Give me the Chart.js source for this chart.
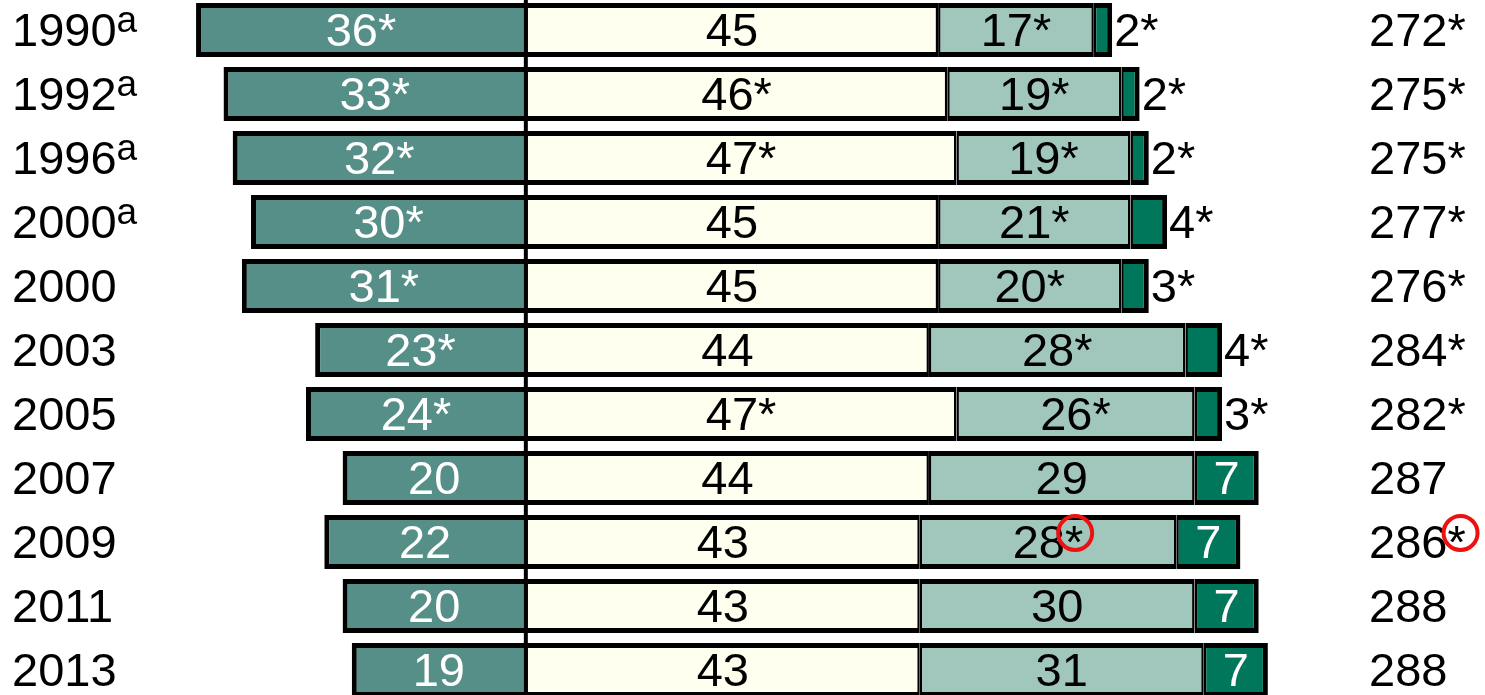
<!DOCTYPE html>
<html lang="en">
<head>
    <meta charset="UTF-8">
    <title>Achievement levels by year</title>
    <script src="https://cdn.jsdelivr.net/npm/chart.js"></script>
    <style>
        html, body {
            margin: 0;
            padding: 0;
            background: white;
            overflow: hidden;
            width: 1485px;
            height: 695px;
        }
        #wrap {
            position: absolute;
            left: 0;
            top: -2px;
            width: 1485px;
            height: 704px;
        }
    </style>
</head>
<body>
    <div id="wrap"><canvas id="levels" width="1485" height="704"></canvas></div>

    <script>
        // years (superscript "a" handled separately)
        const years = ["1990", "1992", "1996", "2000", "2000", "2003", "2005", "2007", "2009", "2011", "2013"];
        const yearNote = ["a", "a", "a", "a", "", "", "", "", "", "", ""];

        // percentages at each level
        const belowBasic = [36, 33, 32, 30, 31, 23, 24, 20, 22, 20, 19];
        const basic = [45, 46, 47, 45, 45, 44, 47, 44, 43, 43, 43];
        const proficient = [17, 19, 19, 21, 20, 28, 26, 29, 28, 30, 31];
        const advanced = [2, 2, 2, 4, 3, 4, 3, 7, 7, 7, 7];

        // printed labels (asterisk = significantly different)
        const belowBasicText = ["36*", "33*", "32*", "30*", "31*", "23*", "24*", "20", "22", "20", "19"];
        const basicText = ["45", "46*", "47*", "45", "45", "44", "47*", "44", "43", "43", "43"];
        const proficientText = ["17*", "19*", "19*", "21*", "20*", "28*", "26*", "29", "28*", "30", "31"];
        const advancedText = ["2*", "2*", "2*", "4*", "3*", "4*", "3*", "7", "7", "7", "7"];

        // average scale scores
        const scores = ["272*", "275*", "275*", "277*", "276*", "284*", "282*", "287", "286*", "288", "288"];

        // asterisks circled in red: [dataset or "score", row]
        const circled = [["proficient", 8], ["score", 8]];

        const FONT = '47px "Liberation Sans", Arial, sans-serif';

        function drawText(ctx, text, x, y, align, color) {
            ctx.save();
            ctx.font = FONT;
            ctx.fillStyle = color;
            ctx.textAlign = align;
            ctx.textBaseline = "alphabetic";
            ctx.fillText(text, x, y);
            let w = ctx.measureText(text).width;
            ctx.restore();
            return w;
        }

        function circleStar(ctx, rightX, baseY) {
            ctx.save();
            ctx.font = FONT;
            let sw = ctx.measureText("*").width;
            ctx.strokeStyle = "#ee1111";
            ctx.lineWidth = 4;
            ctx.beginPath();
            ctx.arc(rightX - sw / 2 + 1, baseY - 25, 17, 0, Math.PI * 2);
            ctx.stroke();
            ctx.restore();
        }

        const labelPlugin = {
            id: "labels",
            afterDatasetsDraw(chart) {
                const ctx = chart.ctx;
                const xs = chart.scales.x;
                const ys = chart.scales.y;

                // zero line
                let x0 = xs.getPixelForValue(0);
                ctx.save();
                ctx.strokeStyle = "black";
                ctx.lineWidth = 4;
                ctx.beginPath();
                ctx.moveTo(x0, 0);
                ctx.lineTo(x0, chart.height);
                ctx.stroke();
                ctx.restore();

                const texts = [belowBasicText, basicText, proficientText, advancedText];
                const colors = ["white", "black", "black", "white"];
                chart.data.datasets.forEach((ds, di) => {
                    const meta = chart.getDatasetMeta(di);
                    meta.data.forEach((bar, i) => {
                        let base = bar.y + 16;
                        let txt = texts[di][i];
                        if (di === 3 && advanced[i] < 5) {
                            let right = Math.max(bar.x, bar.base);
                            drawText(ctx, txt, right + 2, base, "left", "black");
                        } else {
                            let cx = (bar.x + bar.base) / 2;
                            let w = drawText(ctx, txt, cx, base, "center", colors[di]);
                            circled.forEach(c => {
                                if (c[0] === ds.key && c[1] === i) circleStar(ctx, cx + w / 2, base);
                            });
                        }
                    });
                });

                // year labels and scores
                years.forEach((yr, i) => {
                    let y = ys.getPixelForValue(i) + 16;
                    let w = drawText(ctx, yr, 12, y, "left", "black");
                    if (yearNote[i]) {
                        ctx.save();
                        ctx.font = '37px "Liberation Sans", Arial, sans-serif';
                        ctx.fillStyle = "black";
                        ctx.fillText(yearNote[i], 12 + w, y - 14);
                        ctx.restore();
                    }
                    let sw = drawText(ctx, scores[i], 1369, y, "left", "black");
                    circled.forEach(c => {
                        if (c[0] === "score" && c[1] === i) circleStar(ctx, 1369 + sw + 3, y);
                    });
                });
            }
        };

        const labels = years.map((y, i) => y + yearNote[i]);

        let ctx = document.getElementById("levels").getContext("2d");
        let levelChart = new Chart(ctx, {
            type: "bar",
            data: {
                labels: labels,
                datasets: [
                    {
                        key: "belowBasic",
                        label: "Below Basic",
                        data: belowBasic.map(v => -v),
                        backgroundColor: "#558f87",
                        borderColor: "black",
                        borderWidth: { left: 5, top: 5, bottom: 5, right: 2 },
                        borderSkipped: false
                    },
                    {
                        key: "basic",
                        label: "Basic",
                        data: basic,
                        backgroundColor: "#fffff0",
                        borderColor: "black",
                        borderWidth: { left: 2, top: 5, bottom: 5, right: 2.5 },
                        borderSkipped: false
                    },
                    {
                        key: "proficient",
                        label: "Proficient",
                        data: proficient,
                        backgroundColor: "#a1c7bc",
                        borderColor: "black",
                        borderWidth: { left: 2.5, top: 5, bottom: 5, right: 2.5 },
                        borderSkipped: false
                    },
                    {
                        key: "advanced",
                        label: "Advanced",
                        data: advanced,
                        backgroundColor: "#00765a",
                        borderColor: "black",
                        borderWidth: { left: 2.5, top: 5, bottom: 5, right: 5 },
                        borderSkipped: false
                    }
                ]
            },
            options: {
                indexAxis: "y",
                responsive: false,
                animation: false,
                devicePixelRatio: 1,
                barPercentage: 0.845,
                categoryPercentage: 1,
                layout: { padding: 0 },
                scales: {
                    x: { stacked: true, display: false, min: -57.4, max: 104.7 },
                    y: { stacked: true, display: false }
                },
                plugins: {
                    legend: { display: false },
                    tooltip: { enabled: false }
                }
            },
            plugins: [labelPlugin]
        });
    </script>
</body>
</html>
